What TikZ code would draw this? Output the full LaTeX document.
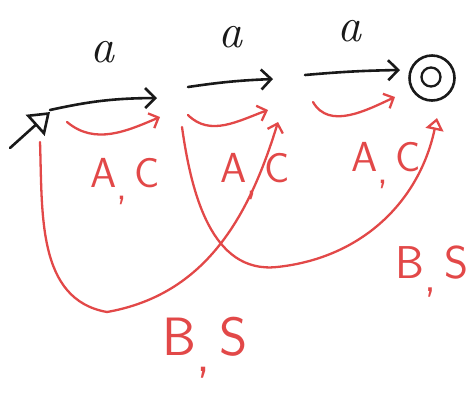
\documentclass[tikz,border=0pt]{standalone}
\usetikzlibrary{arrows.meta}
\definecolor{pen}{RGB}{25,25,25}
\definecolor{hred}{RGB}{226,72,72}
\begin{document}
\begin{tikzpicture}[x=1pt,y=-1pt,
  blk/.style={draw=pen,line width=2.6pt,line cap=round},
  rd/.style={draw=hred,line width=2.3pt,line cap=round},
  barb/.style={-{Straight Barb[length=10pt,width=20pt,line width=2.6pt]}},
  rbarb/.style={-{Straight Barb[length=8pt,width=16pt,line width=2.3pt]}},
  rtri/.style={-{Triangle[open,length=12pt,width=18pt,line width=2.3pt]}},
  sym/.style={text=pen,font=\itshape\fontsize{48}{48}\selectfont,inner sep=0pt,anchor=base},
  rlbl/.style={text=hred,font=\sffamily\fontsize{42}{42}\selectfont,inner sep=0pt,anchor=base},
  final/.style={draw=pen,line width=2.6pt,circle,inner sep=0pt}
]
\useasboundingbox (0,0) rectangle (473,392);
% states
\coordinate (q0) at (45,118);
\coordinate (q1) at (172,105);
\coordinate (q2) at (290,95);
\node[final,minimum size=45pt] (q3) at (432,78) {};
\node[final,minimum size=19pt,line width=2.3pt] (q3in) at (431,77) {};
\coordinate (s) at (10,148);
\coordinate (b1) at (107,312);
\coordinate (b2) at (277,267);
% start arrow
\draw[blk,-{Triangle[open,length=20pt,width=28pt,line width=2.6pt]}] (s) -- ([shift={(5,-6)}]q0);
% black a-transitions
\draw[blk,barb] ([shift={(5,-8)}]q0) to[bend left=6] ([shift={(-15,-7)}]q1);
\draw[blk,barb] ([shift={(16,-18)}]q1) to[bend left=3] ([shift={(-17,-16)}]q2);
\draw[blk,barb] ([shift={(15,-20)}]q2) to[bend left=2] ([shift={(-32,-8)}]q3.center);
\node[sym] (la1) at (102,62) {a};
\node[sym] (la2) at (230,47) {a};
\node[sym] (la3) at (349,41) {a};
% red A,C transitions
\draw[rd,rbarb] ([shift={(22,4)}]q0) to[out=-40,in=203] ([shift={(-12,12)}]q1);
\draw[rd,rbarb] ([shift={(16,10)}]q1) to[out=-45,in=200] ([shift={(-22,15)}]q2);
\draw[rd,rbarb] ([shift={(23,7)}]q2) to[out=-60,in=205] ([shift={(-37,19)}]q3.center);
\node[rlbl] (ac1) at (125,187) {A\raisebox{-0.3em}{,}\,C};
\node[rlbl] (ac2) at (255,182) {A\raisebox{-0.3em}{,}\,C};
\node[rlbl] (ac3) at (386,171) {A\raisebox{-0.3em}{,}\,C};
% red B,S transitions
\draw[rd,rbarb] ([shift={(-5,24)}]q0) to[out=-88,in=170] (b1) to[out=10,in=253] ([shift={(-12,27)}]q2);
\draw[rd,rtri] ([shift={(10,22)}]q1) to[out=-82,in=186] (b2) to[out=6,in=258] ([shift={(5,40)}]q3.center);
\node[rlbl,font=\sffamily\fontsize{54}{54}\selectfont] (bs1) at (205,355) {B\raisebox{-0.3em}{,}\,S};
\node[rlbl,font=\sffamily\fontsize{46}{46}\selectfont] (bs2) at (432,278) {B\raisebox{-0.3em}{,}\,S};
\end{tikzpicture}
\end{document}
